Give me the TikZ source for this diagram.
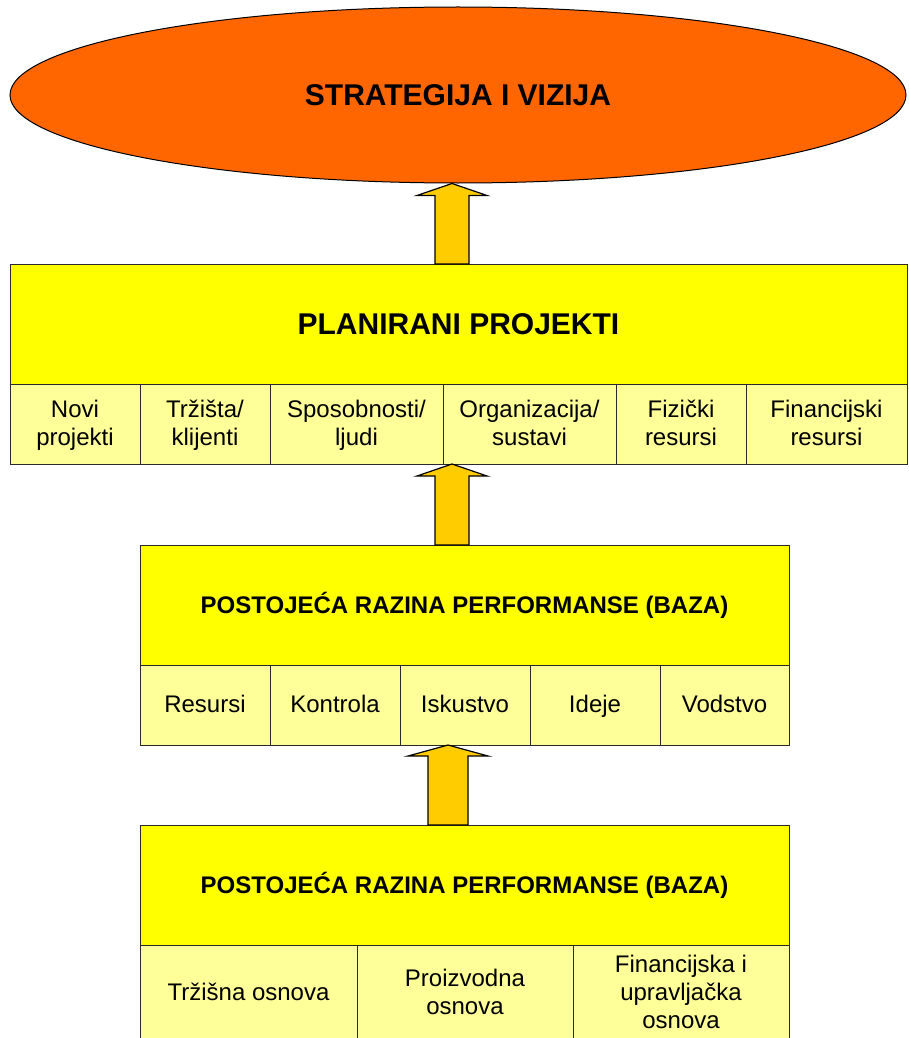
\documentclass[tikz,border=0pt]{standalone}
\usepackage{fontspec}
\setmainfont{Liberation Sans}
\usetikzlibrary{shapes.geometric,calc}
\definecolor{orng}{HTML}{FF6600}
\definecolor{hdrY}{HTML}{FFFF00}
\definecolor{cellY}{HTML}{FFFF99}
\definecolor{arrY}{HTML}{FFCC00}
\definecolor{edgeC}{HTML}{2A2A2A}
\newcommand{\cst}{\rule[-7pt]{0pt}{28pt}}
\newcommand{\blockarrow}[6]{%
 \draw[barrow] let \p1=(#1), \p2=(#2) in
  (\x1+#3pt-#4pt,\y1) -- (\x1+#3pt-#4pt,\y2-#6pt) -- (\x1+#3pt-#5pt,\y2-#6pt) -- (\x1+#3pt,\y2)
  -- (\x1+#3pt+#5pt,\y2-#6pt) -- (\x1+#3pt+#4pt,\y2-#6pt) -- (\x1+#3pt+#4pt,\y1) -- cycle;}
\begin{document}
\begin{tikzpicture}[x=1pt,y=-1pt,
  hdr/.style={draw=edgeC,line width=1pt,fill=hdrY,inner sep=0pt,outer sep=0pt,
    minimum height=120,font=\bfseries\fontsize{30}{34}\selectfont},
  hdrsmall/.style={hdr,font=\bfseries\fontsize{24}{28}\selectfont},
  cell/.style={draw=edgeC,line width=1pt,fill=cellY,inner sep=0pt,outer sep=0pt,
    align=center,font=\fontsize{24}{28}\selectfont},
  barrow/.style={draw=black,line width=1.2pt,fill=arrY,line join=miter}]
\useasboundingbox (0,0) rectangle (908,1038);

% top ellipse
\node[ellipse,draw=black,line width=1pt,fill=orng,inner sep=0pt,
  minimum width=896,minimum height=176,font=\bfseries\fontsize{30}{34}\selectfont]
  (sv) at (458,95) {STRATEGIJA I VIZIJA};

% box 1
\node[hdr,minimum width=897] (h1) at (458.5,324) {PLANIRANI PROJEKTI};
\node[cell,minimum width=130,minimum height=80] (c1a) at (75,424) {\cst Novi\\\cst projekti};
\node[cell,minimum width=130,minimum height=80] (c1b) at (205,424) {\cst Tržišta/\\\cst klijenti};
\node[cell,minimum width=173,minimum height=80] (c1c) at (356.5,424) {\cst Sposobnosti/\\\cst ljudi};
\node[cell,minimum width=173,minimum height=80] (c1d) at (529.5,424) {\cst Organizacija/\\\cst sustavi};
\node[cell,minimum width=130,minimum height=80] (c1e) at (681,424) {\cst Fizički\\\cst resursi};
\node[cell,minimum width=161,minimum height=80] (c1f) at (826.5,424) {\cst Financijski\\\cst resursi};

% box 2
\node[hdrsmall,minimum width=649] (h2) at (464.5,605) {POSTOJEĆA RAZINA PERFORMANSE (BAZA)};
\node[cell,minimum width=130,minimum height=80] (c2a) at (205,705) {\cst Resursi};
\node[cell,minimum width=130,minimum height=80] (c2b) at (335,705) {\cst Kontrola};
\node[cell,minimum width=130,minimum height=80] (c2c) at (465,705) {\cst Iskustvo};
\node[cell,minimum width=130,minimum height=80] (c2d) at (595,705) {\cst Ideje};
\node[cell,minimum width=129,minimum height=80] (c2e) at (724.5,705) {\cst Vodstvo};

% box 3
\node[hdrsmall,minimum width=649] (h3) at (464.5,885) {POSTOJEĆA RAZINA PERFORMANSE (BAZA)};
\node[cell,minimum width=217,minimum height=96] (c3a) at (248.5,993) {\cst Tržišna osnova};
\node[cell,minimum width=216,minimum height=96] (c3b) at (465,993) {\cst Proizvodna\\\cst osnova};
\node[cell,minimum width=216,minimum height=96] (c3c) at (681,993) {\cst Financijska i\\\cst upravljačka\\\cst osnova};

% block arrows
\blockarrow{h1.north}{sv.south}{-6.5}{17}{35}{12}
\blockarrow{h2.north}{c1d.south}{-12.5}{17}{35}{12}
\blockarrow{h3.north}{c2c.south}{-16.5}{20}{40}{11}
\end{tikzpicture}
\end{document}
